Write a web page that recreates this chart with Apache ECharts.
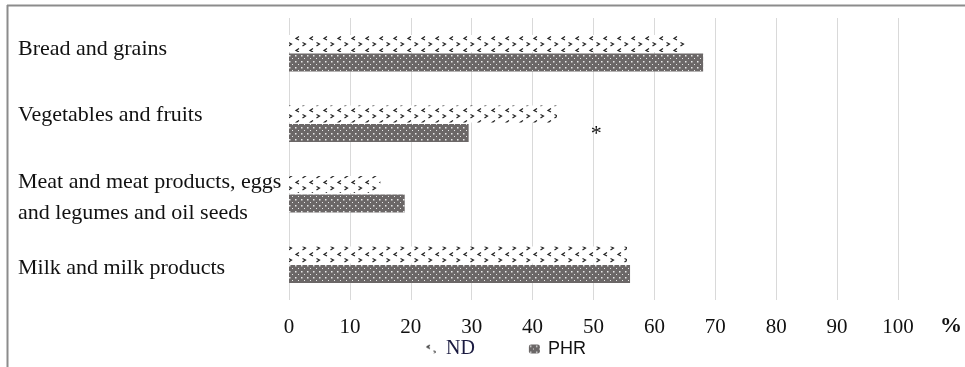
<!DOCTYPE html>
<html>
<head>
<meta charset="utf-8">
<script src="https://cdn.jsdelivr.net/npm/echarts@6/dist/echarts.min.js"></script>
<style>html,body{margin:0;padding:0;background:#fff;}#c{width:965px;height:367px;}</style>
</head>
<body>
<div id="c"></div>
<script>
const categories = ['Bread and grains', 'Vegetables and fruits', 'Meat and meat products, eggs\nand legumes and oil seeds', 'Milk and milk products'];
const ndValues = [65, 44, 15, 55.5];
const phrValues = [68, 29.5, 19, 56];
const xTicks = [0, 10, 20, 30, 40, 50, 60, 70, 80, 90, 100];
const asterisk = { category: 'Vegetables and fruits', value: 50.3, text: '*' };

function ndPattern() {
  const c = document.createElement('canvas');
  c.width = 14; c.height = 12;
  const g = c.getContext('2d');
  g.fillStyle = '#fff'; g.fillRect(0, 0, 14, 12);
  g.strokeStyle = '#222'; g.lineWidth = 1.2;
  g.beginPath(); g.moveTo(5, 0.5); g.lineTo(2, 2.5); g.lineTo(5, 4); g.stroke();
  g.beginPath(); g.moveTo(8.5, 6.5); g.lineTo(11.5, 8); g.lineTo(8.5, 10); g.stroke();
  return c;
}
function phrPattern() {
  const c = document.createElement('canvas');
  c.width = 6; c.height = 6;
  const g = c.getContext('2d');
  g.fillStyle = '#6b6767'; g.fillRect(0, 0, 6, 6);
  g.fillStyle = '#e8e8e8';
  g.fillRect(1, 1, 1.5, 1.5);
  g.fillRect(4, 4, 1, 1);
  return c;
}

const font = { fontFamily: 'Liberation Serif', fontSize: 22, color: '#111' };
const labelShift = [[0, 0, 9, 0], [0, 0, 18, 0], [7, 0, 0, 0], [6, 0, 0, 0]];
const rich = {};
labelShift.forEach((p, i) => { rich['p' + i] = Object.assign({ padding: p, lineHeight: 31 }, font); });
const chart = echarts.init(document.getElementById('c'));
chart.setOption({
  animation: false,
  backgroundColor: '#fff',
  grid: { left: 289, right: 67, top: 18, bottom: 67, containLabel: false, outerBoundsMode: 'none' },
  xAxis: {
    type: 'value', min: 0, max: 100, interval: 10,
    axisLine: { show: false }, axisTick: { show: false },
    splitLine: { show: true, lineStyle: { color: '#d9d9d9', width: 1 } },
    axisLabel: { fontFamily: 'Liberation Serif', fontSize: 21, color: '#111', margin: 17,
      formatter: v => xTicks.indexOf(v) >= 0 ? String(v) : '' },
    name: '%', nameLocation: 'end', nameGap: 42,
    nameTextStyle: { fontFamily: 'Liberation Serif', fontSize: 22, fontWeight: 'bold', color: '#111', align: 'left', verticalAlign: 'top', padding: [15, 0, 0, 0] }
  },
  yAxis: {
    type: 'category', inverse: true,
    data: categories,
    axisLine: { show: false }, axisTick: { show: false }, splitLine: { show: false },
    axisLabel: Object.assign({ margin: 271, align: 'left', lineHeight: 31, rich: rich,
      formatter: (v, i) => v.split('\n').map(s => '{p' + i + '|' + s + '}').join('\n') }, font)
  },
  legend: {
    bottom: 3, left: 420, itemGap: 54, itemWidth: 11, itemHeight: 9,
    data: [
      { name: 'ND', textStyle: { fontFamily: 'Liberation Serif', fontSize: 20, color: '#1a1a40', padding: [0, 0, 0, 5] } },
      { name: 'PHR', textStyle: { fontFamily: 'Liberation Sans', fontSize: 18, color: '#111', padding: [0, 0, 0, 3] } }
    ]
  },
  series: [
    { name: 'ND', type: 'bar', data: ndValues, barWidth: 17, barGap: '8%',
      itemStyle: { color: { image: ndPattern(), repeat: 'repeat' } } },
    { name: 'PHR', type: 'bar', data: phrValues, barWidth: 18,
      itemStyle: { color: { image: phrPattern(), repeat: 'repeat' } },
      markPoint: { symbol: 'circle', symbolSize: 0,
        label: { show: true, formatter: asterisk.text, fontFamily: 'Liberation Serif', fontSize: 22, color: '#111', offset: [1, 1] },
        data: [{ coord: [asterisk.value, asterisk.category] }] } }
  ],
  graphic: [
    { type: 'line', shape: { x1: 7, y1: 5.5, x2: 965, y2: 5.5 }, style: { stroke: '#8c8c8c', lineWidth: 2 } },
    { type: 'line', shape: { x1: 7.5, y1: 5, x2: 7.5, y2: 367 }, style: { stroke: '#8c8c8c', lineWidth: 2 } }
  ]
});
</script>
</body>
</html>
